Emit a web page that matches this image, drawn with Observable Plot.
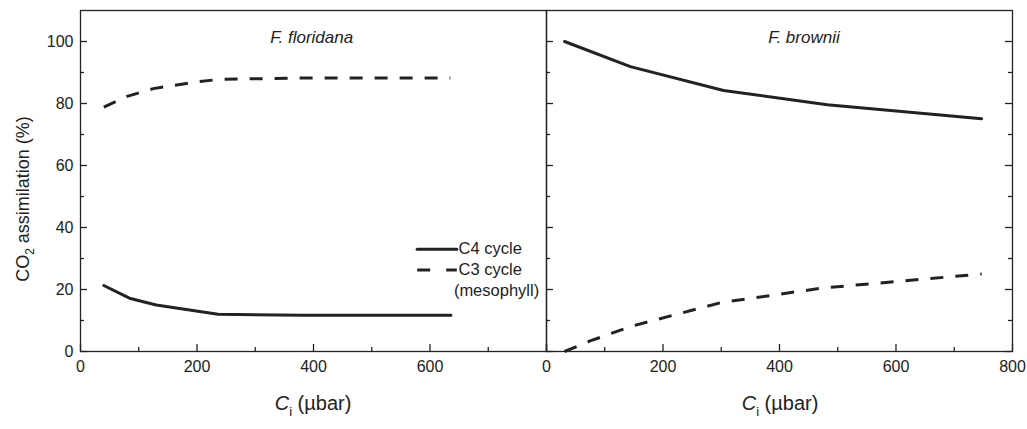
<!DOCTYPE html>
<html><head><meta charset="utf-8">
<script src="https://cdn.jsdelivr.net/npm/d3@7"></script>
<script src="https://cdn.jsdelivr.net/npm/@observablehq/plot@0.6"></script>
<style>
body{margin:0;background:#fff;}
#chart{position:relative;width:1027px;height:429px;font-family:"Liberation Sans",Arial,sans-serif;}
#chart svg{position:absolute;top:0;overflow:visible;}
</style></head><body><div id="chart"></div>
<script>
// ---- data ----
const ffC4X = [40, 84, 130, 236, 380, 636];
const ffC4Y = [21.3, 17.2, 15.0, 12.0, 11.7, 11.7];
const ffC3X = [40, 80, 125, 200, 240, 380, 635];
const ffC3Y = [78.8, 82.3, 84.8, 87.0, 87.8, 88.2, 88.2];
const fbC4X = [31, 144, 304, 482, 747];
const fbC4Y = [100, 91.9, 84.2, 79.6, 75.1];
const fbC3X = [31, 75, 145, 300, 475, 747];
const fbC3Y = [0, 3.4, 8.1, 15.8, 20.5, 25.0];
const yMajor = [0, 20, 40, 60, 80, 100];
const yMinor = [10, 30, 50, 70, 90];
const xMajor = [0, 200, 400, 600, 800];
const xMinor = [100, 300, 500, 700];
const leftXLabels = [0, 200, 400, 600];
const rightXLabels = [0, 200, 400, 600, 800];
const panelTitles = ["F. floridana", "F. brownii"];
const legendLabels = ["C4 cycle", "C3 cycle", "(mesophyll)"];

const pts = (xs, ys) => xs.map((x, i) => ({x, y: ys[i]}));
const INK = "#222";
const FONT = "'Liberation Sans', Arial, sans-serif";

function baseMarks(leftTicks, rightTicks, xLabels, withYLabels) {
  const m = [Plot.frame({stroke: INK, strokeWidth: 1.3})];
  if (leftTicks) {
    m.push(Plot.ruleY(yMajor, {y: d => d, x1: () => 0, x2: () => 0, insetRight: -7, stroke: INK, strokeWidth: 1.3}));
    m.push(Plot.ruleY(yMinor, {y: d => d, x1: () => 0, x2: () => 0, insetRight: -4, stroke: INK, strokeWidth: 1.3}));
  }
  if (rightTicks) {
    m.push(Plot.ruleY(yMajor, {y: d => d, x1: () => 800, x2: () => 800, insetLeft: -7, stroke: INK, strokeWidth: 1.3}));
    m.push(Plot.ruleY(yMinor, {y: d => d, x1: () => 800, x2: () => 800, insetLeft: -4, stroke: INK, strokeWidth: 1.3}));
  }
  m.push(Plot.ruleX(xMajor, {x: d => d, y1: () => 0, y2: () => 0, insetTop: -7, stroke: INK, strokeWidth: 1.3}));
  m.push(Plot.ruleX(xMinor, {x: d => d, y1: () => 0, y2: () => 0, insetTop: -4, stroke: INK, strokeWidth: 1.3}));
  m.push(Plot.axisX(xLabels, {tickSize: 0, tickPadding: 9, fontSize: 16, fill: INK, label: null}));
  if (withYLabels) m.push(Plot.axisY(yMajor, {tickSize: 0, tickPadding: 7, fontSize: 16, fill: INK, label: null}));
  return m;
}

const common = {
  height: 429, marginTop: 10, marginBottom: 78,
  style: {background: "transparent", fontFamily: FONT, color: INK}
};

// ---- left panel ----
const left = Plot.plot({
  ...common, width: 556, marginLeft: 80, marginRight: 10,
  x: {domain: [0, 800]}, y: {domain: [0, 110]},
  marks: [
    ...baseMarks(true, false, leftXLabels, true),
    Plot.line(pts(ffC4X, ffC4Y), {x: "x", y: "y", stroke: INK, strokeWidth: 3}),
    Plot.line(pts(ffC3X, ffC3Y), {x: "x", y: "y", stroke: INK, strokeWidth: 3, strokeDasharray: "13,12", strokeLinecap: "butt"}),
    Plot.text([panelTitles[0]], {x: () => 397, y: () => 101.2, text: d => d, fontSize: 17, fontStyle: "italic", fill: INK}),
    // legend
    Plot.line([{x: 578, y: 33}, {x: 646, y: 33}], {x: "x", y: "y", stroke: INK, strokeWidth: 3}),
    Plot.line([{x: 578, y: 26.3}, {x: 646, y: 26.3}], {x: "x", y: "y", stroke: INK, strokeWidth: 3, strokeDasharray: "13,16", strokeLinecap: "butt"}),
    Plot.text([legendLabels[0]], {x: () => 649, y: () => 33, text: d => d, textAnchor: "start", fontSize: 16.5, fill: INK}),
    Plot.text([legendLabels[1]], {x: () => 649, y: () => 26.3, text: d => d, textAnchor: "start", fontSize: 16.5, fill: INK}),
    Plot.text([legendLabels[2]], {x: () => 641, y: () => 19.6, text: d => d, textAnchor: "start", fontSize: 16.5, fill: INK})
  ]
});
left.style.left = "0px";

// ---- right panel ----
const right = Plot.plot({
  ...common, width: 491, marginLeft: 10, marginRight: 15,
  x: {domain: [0, 800]}, y: {domain: [0, 110], axis: null},
  marks: [
    ...baseMarks(true, true, rightXLabels, false),
    Plot.line(pts(fbC4X, fbC4Y), {x: "x", y: "y", stroke: INK, strokeWidth: 3}),
    Plot.line(pts(fbC3X, fbC3Y), {x: "x", y: "y", stroke: INK, strokeWidth: 3, strokeDasharray: "13,12", strokeLinecap: "butt"}),
    Plot.text([panelTitles[1]], {x: () => 442, y: () => 101.2, text: d => d, fontSize: 17, fontStyle: "italic", fill: INK})
  ]
});
right.style.left = "536px";

const chart = document.getElementById("chart");
chart.appendChild(left);
chart.appendChild(right);

// axis titles with italic / subscript parts
function xTitle(svg, cx) {
  const t = d3.select(svg).append("text")
    .attr("x", cx).attr("y", 410).attr("text-anchor", "middle")
    .attr("font-size", 20).attr("fill", INK).attr("font-family", FONT);
  t.append("tspan").attr("font-style", "italic").text("C");
  t.append("tspan").attr("font-size", 13).attr("dy", 6).text("i");
  t.append("tspan").attr("dy", -6).text(" (µbar)");
}
xTitle(left, 313);
xTitle(right, 244);

const yt = d3.select(left).append("text")
  .attr("transform", "translate(29,199) rotate(-90)").attr("text-anchor", "middle")
  .attr("font-size", 18).attr("fill", INK).attr("font-family", FONT);
yt.append("tspan").text("CO");
yt.append("tspan").attr("font-size", 12).attr("dy", 5).text("2");
yt.append("tspan").attr("dy", -5).text(" assimilation (%)");
</script></body></html>
